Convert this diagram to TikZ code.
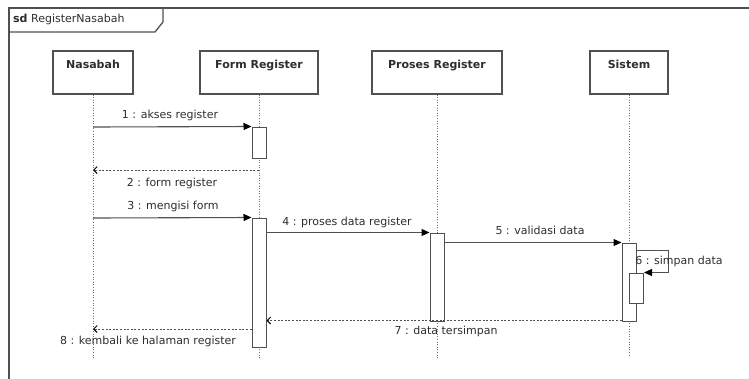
\documentclass[tikz,border=0pt]{standalone}
\usepackage{fontspec}
\setmainfont{DejaVu Sans}
\usetikzlibrary{arrows.meta,calc}
\definecolor{edge}{HTML}{505050}
\definecolor{ink}{HTML}{2E2E2E}
\definecolor{lifegray}{HTML}{707070}
\tikzset{
  head/.style={draw=edge, line width=1.2pt, fill=white, minimum width=#1, inner xsep=0pt,
    inner ysep=6pt, text height=11pt, text depth=20pt, font=\fontsize{11}{13}\selectfont\bfseries, text=ink},
  act/.style={draw=edge, line width=1pt, fill=white, minimum width=14pt, inner sep=0pt},
  lifeline/.style={draw=lifegray, line width=1pt, dash pattern=on 1pt off 1.6pt},
  msg/.style={draw=edge, line width=1.1pt, -{Triangle[length=8pt,width=7pt,color=black]}},
  reply/.style={draw=edge, line width=1pt, dash pattern=on 2pt off 1.6pt,
    -{Straight Barb[length=3.5pt,width=7pt,color=black]}},
  lbl/.style={font=\fontsize{11}{13}\selectfont, text=ink, inner sep=1pt},
}
\begin{document}
\begin{tikzpicture}[x=1pt,y=-1pt]
\useasboundingbox (0,0) rectangle (749,378);
\fill[white] (0,0) rectangle (749,378);

% interaction frame with its name tab
\draw[edge, line width=1.3pt] (9,380) -- (9,8) -- (752,8);
\draw[edge, line width=1.3pt] (9,32) -- (155,32) -- (163,22) -- (163,8);
\node[anchor=west, text=ink, inner sep=0pt, font=\fontsize{11}{13}\selectfont] (frameName) at (13,19)
  {\textbf{sd} RegisterNasabah};

% lifeline heads
\node[head=80pt]  (nas) at (93,72.5)  {Nasabah};
\node[head=118pt] (frm) at (259,72.5) {Form Register};
\node[head=130pt] (prs) at (437,72.5) {Proses Register};
\node[head=78pt]  (sis) at (629,72.5) {Sistem};

% lifeline ends
\coordinate (nasEnd) at (93,359);
\coordinate (frmEnd) at (259,359);
\coordinate (prsEnd) at (437,359);
\coordinate (sisEnd) at (629,355);
\draw[lifeline] (nas.south) -- (nasEnd);
\draw[lifeline] (frm.south) -- (frmEnd);
\draw[lifeline] (prs.south) -- (prsEnd);
\draw[lifeline] (sis.south) -- (sisEnd);

% activation bars
\node[act, minimum height=31pt]  (a1) at (259,142.5) {};
\node[act, minimum height=129pt] (a2) at (259,282.5) {};
\node[act, minimum height=88pt]  (a3) at (437,277)   {};
\node[act, minimum height=78pt]  (a4) at (629,282)   {};
\node[act, minimum height=30pt]  (a5) at (636.5,288) {};

% message anchor points on the Nasabah and Form Register lifelines
\coordinate (n1) at (93,127);
\coordinate (n2) at (93,170);
\coordinate (f2) at (259,170);
\coordinate (n3) at (93,218);
\coordinate (n8) at (93,329);

% 1 : akses register
\draw[msg] (n1) -- (a1.north west);
\node[lbl] (m1) at (170,115) {1 : akses register};
% 2 : form register
\draw[reply] (f2) -- (n2);
\node[lbl] (m2) at (172,183) {2 : form register};
% 3 : mengisi form
\draw[msg] (n3) -- (a2.north west);
\node[lbl] (m3) at (173,206) {3 : mengisi form};
% 4 : proses data register
\draw[msg] (a2.east |- a3.north) -- (a3.north west);
\node[lbl] (m4) at (347,222) {4 : proses data register};
% 5 : validasi data
\draw[msg] (a3.east |- a4.north) -- (a4.north west);
\node[lbl] (m5) at (540,230) {5 : validasi data};
% 6 : simpan data (self call)
\draw[msg] ($(a4.north east)+(0,8)$) -- ++(32,0) |- (a5.north east);
\node[lbl] (m6) at (679,261) {6 : simpan data};
% 7 : data tersimpan
\draw[reply] ($(a4.south west)+(0,-1)$) -- ($(a4.south west -| a2.east)+(0,-1)$);
\node[lbl] (m7) at (446,331) {7 : data tersimpan};
% 8 : kembali ke halaman register
\draw[reply] (a2.west |- n8) -- (n8);
\node[lbl] (m8) at (148,341) {8 : kembali ke halaman register};
\end{tikzpicture}
\end{document}
